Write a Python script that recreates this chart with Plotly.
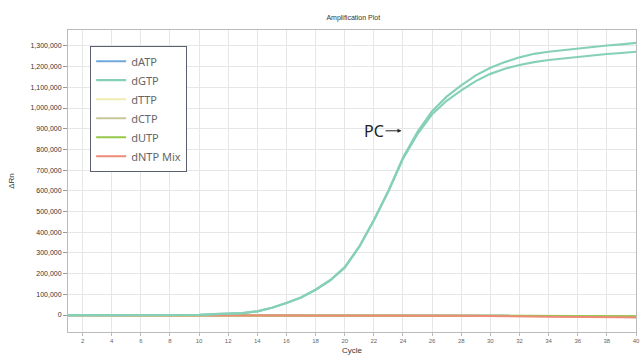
import plotly.graph_objects as go

cycles = list(range(1, 41))

dGTP_a = [0, 0, 0, 0, 0, 0, 0, 0, 0, 1000, 4000, 5000, 9000, 18000, 35000, 58000, 85000, 122000, 168000, 230000,
          330000, 458000, 600000, 760000, 885000, 985000, 1055000, 1110000, 1158000, 1195000,
          1222000, 1245000, 1262000, 1272000, 1280000, 1288000, 1295000, 1302000, 1308000, 1315000]
dGTP_b = [0, 0, 0, 0, 0, 0, 0, 0, 0, 1000, 4000, 5000, 9000, 18000, 35000, 58000, 85000, 122000, 168000, 230000,
          330000, 458000, 598000, 755000, 875000, 970000, 1035000, 1085000, 1130000, 1165000,
          1190000, 1208000, 1222000, 1232000, 1240000, 1248000, 1255000, 1261000, 1266000, 1272000]
dATP = [-1000, -1000, 0, 0, 0, 0, 0, 0, 0, -1000, -1000, -1000, -1000, -1000, -1000, -1000, -1000, -1000, -1000, -1000,
        -1000, -1000, -1000, -1000, -1000, -2000, -2000, -2000, -3000, -3000,
        -3000, -3000, -3000, -3000, -3000, -2000, -2000, -2000, -2000, -2000]
dTTP = [-1000, -1000, 0, 0, 0, 0, 0, 0, 0, -1000, -1000, -1000, -1000, -1000, -1000, -1000, -1000, -1000, -1000, -1000,
        -1000, -1000, -1000, -2000, -2000, -2000, -2000, -3000, -3000, -3000,
        -4000, -4000, -4000, -5000, -5000, -5000, -6000, -6000, -6000, -7000]
dCTP = [-1000, -1000, 0, 0, 0, 0, 0, 0, 0, -1000, -1000, -1000, -1000, -1000, -1000, -1000, -1000, -1000, -1000, -1000,
        -1000, -1000, -1000, -2000, -2000, -2000, -3000, -3000, -3000, -4000,
        -4000, -4000, -5000, -5000, -5000, -6000, -6000, -6000, -7000, -7000]
dUTP = [-1000, -1000, 0, 0, 0, 0, 0, 0, 0, -1000, -1000, -1000, -1000, -1000, -1000, -1000, -1000, -1000, -1000, -1000,
        -1000, -1000, -1000, -1000, -2000, -2000, -2000, -2000, -3000, -3000,
        -3000, -4000, -4000, -4000, -4000, -5000, -5000, -5000, -5000, -6000]
dNTP_Mix = [-1000, -1000, 0, 0, 0, 0, 0, 0, 0, -1000, -1000, -1000, -1000, -1000, -1000, -1000, -1000, -1000, -1000, -1000,
            -1000, -1000, -2000, -2000, -2000, -3000, -3000, -4000, -4000, -5000,
            -6000, -6000, -7000, -8000, -8000, -9000, -10000, -10000, -11000, -12000]

names = ["dATP", "dGTP", "dTTP", "dCTP", "dUTP", "dNTP Mix"]
colors = ["#6fa8dc", "#86d0b8", "#f0ecae", "#c9c79a", "#95c94c", "#ef8a78"]
flat = {"dATP": dATP, "dTTP": dTTP, "dCTP": dCTP, "dUTP": dUTP, "dNTP Mix": dNTP_Mix}

y_ticks = list(range(0, 1300001, 100000))
x_ticks = list(range(2, 41, 2))

fig = go.Figure()
for i, name in enumerate(names):
    if name == "dGTP":
        continue
    fig.add_trace(go.Scatter(x=cycles, y=flat[name], mode="lines", name=name,
                             line=dict(color=colors[i], width=2), legendrank=i))
fig.add_trace(go.Scatter(x=cycles, y=dGTP_a, mode="lines", name="dGTP",
                         line=dict(color=colors[1], width=2.2), legendrank=1))
fig.add_trace(go.Scatter(x=cycles, y=dGTP_b, mode="lines", name="dGTP", showlegend=False,
                         line=dict(color=colors[1], width=2.2)))

fig.update_layout(
    width=640, height=356,
    margin=dict(l=68, r=4, t=30, b=24, autoexpand=False),
    paper_bgcolor="white", plot_bgcolor="white",
    title=dict(text="Amplification Plot", x=0.552, xanchor="center", y=0.95, yanchor="middle",
               font=dict(family="Liberation Sans, Arial", size=7, color="#333333")),
    showlegend=True,
    legend=dict(x=0.039, y=0.948, xanchor="left", yanchor="top",
                bordercolor="#5a6070", borderwidth=1, bgcolor="white",
                font=dict(family="Noto Sans, Liberation Sans", size=11, color="#666666"),
                itemwidth=30, tracegroupgap=0),
    font=dict(family="Liberation Sans, Arial", size=7, color="#333333"),
)
fig.update_xaxes(range=[1, 40], tickvals=x_ticks, ticktext=[str(v) for v in x_ticks],
                 automargin=False,
                 showgrid=True, gridcolor="#e6e6e6", gridwidth=1,
                 showline=True, linecolor="#bbbbbb", mirror=True, linewidth=1,
                 ticks="outside", ticklen=3, tickcolor="#bbbbbb",
                 tickfont=dict(size=6, color="#666666"), zeroline=False,
                 title=dict(text="Cycle", font=dict(size=8, color="#333333"), standoff=4))
fig.update_yaxes(range=[-82000, 1377000], tickvals=y_ticks, tickformat=",",
                 automargin=False,
                 showgrid=True, gridcolor="#e6e6e6", gridwidth=1,
                 showline=True, linecolor="#bbbbbb", mirror=True, linewidth=1,
                 ticks="outside", ticklen=4, tickcolor="#999999",
                 tickfont=dict(size=7, color="#333333"), zeroline=False,
                 title=dict(text="ΔRn", font=dict(size=8, color="#333333"), standoff=14))

fig.add_annotation(x=23.9, y=890000, xref="x", yref="y", ax=-16, ay=0,
                   text="PC", showarrow=True, arrowhead=2, arrowsize=0.8, arrowwidth=1,
                   arrowcolor="#222222", xanchor="right", standoff=0,
                   font=dict(family="Noto Sans, Liberation Sans", size=16, color="#222222"))

fig.write_html("out.html", config={"displayModeBar": False},
               post_script="document.body.style.margin='0';document.body.style.overflow='hidden';")
